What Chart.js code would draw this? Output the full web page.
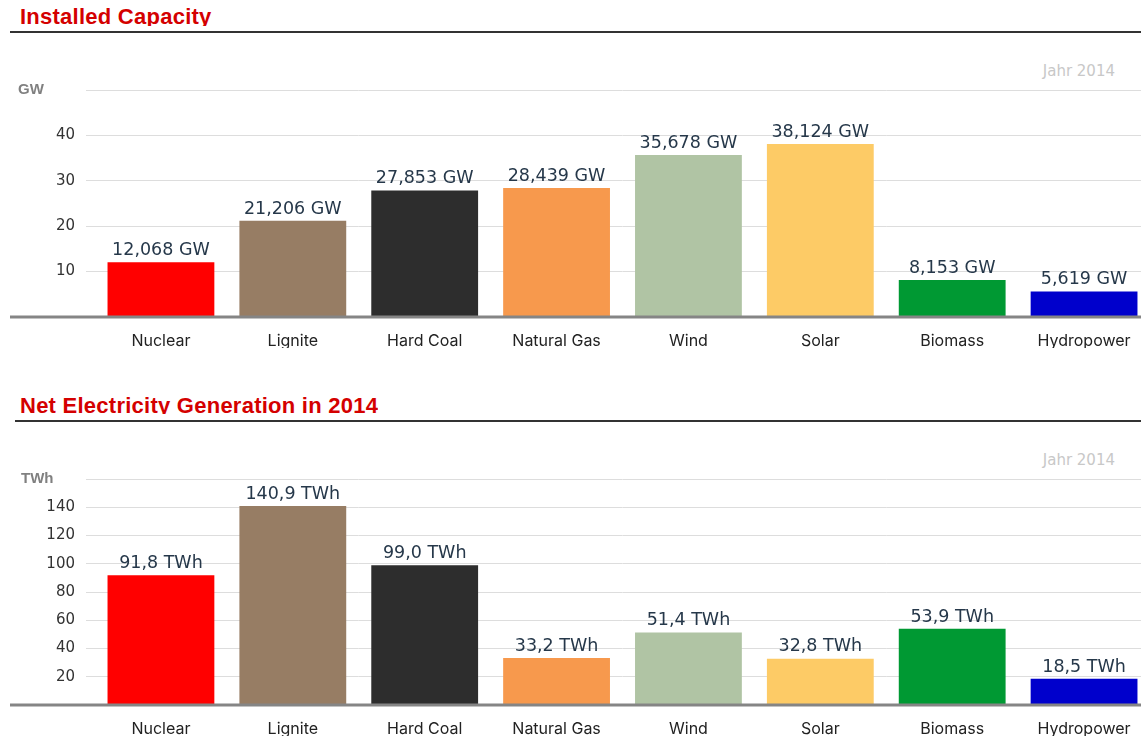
<!DOCTYPE html>
<html>
<head>
<meta charset="utf-8">
<script src="https://cdn.jsdelivr.net/npm/chart.js@4.4.1/dist/chart.umd.min.js"></script>
<style>
  html, body { margin: 0; padding: 0; background: #fff; overflow: hidden; }
  body { width: 1141px; height: 736px; position: relative; }
  .title {
    position: absolute; left: 20px; overflow: hidden; letter-spacing: 0.25px;
    font: bold 22px "Liberation Sans", Arial, sans-serif; color: #d40000;
  }
  .rule { position: absolute; height: 2px; background: #333; right: 0; }
  .year {
    position: absolute; right: 26px;
    font: 15px "DejaVu Sans", Verdana, sans-serif; color: #c8c8c8;
  }
  .box { position: absolute; left: 0; width: 1150px; overflow: hidden; }
</style>
</head>
<body>
  <div class="title" style="top:3px;height:23px;line-height:28px;">Installed Capacity</div>
  <div class="rule" style="top:31px;left:10px;"></div>
  <div class="year" style="top:62px;">Jahr 2014</div>
  <div class="box" style="top:36px;height:312px;"><canvas id="capChart"></canvas></div>

  <div class="title" style="top:392px;height:22px;line-height:28px;">Net Electricity Generation in 2014</div>
  <div class="rule" style="top:420px;left:15px;"></div>
  <div class="year" style="top:451px;">Jahr 2014</div>
  <div class="box" style="top:425px;height:311px;"><canvas id="genChart"></canvas></div>

<script>
  const categories = ['Nuclear', 'Lignite', 'Hard Coal', 'Natural Gas', 'Wind', 'Solar', 'Biomass', 'Hydropower'];
  const barColors = ['#ff0000', '#977d64', '#2d2d2d', '#f7994d', '#b0c4a4', '#fdcb66', '#009933', '#0000cc'];
  const capacityGW = [12.068, 21.206, 27.853, 28.439, 35.678, 38.124, 8.153, 5.619];
  const generationTWh = [91.8, 140.9, 99.0, 33.2, 51.4, 32.8, 53.9, 18.5];
  const capTicks = [0, 10, 20, 30, 40, 50];
  const genTicks = [0, 20, 40, 60, 80, 100, 120, 140, 160];

  // draws value labels, the unit label and the thick baseline
  const decorPlugin = {
    id: 'decor',
    afterDatasetsDraw(chart, args, opts) {
      const ctx = chart.ctx;
      const y = chart.scales.y;
      const meta = chart.getDatasetMeta(0);
      ctx.save();
      // baseline
      ctx.strokeStyle = '#858585';
      ctx.lineWidth = 3;
      ctx.beginPath();
      ctx.moveTo(10, y.getPixelForValue(0));
      ctx.lineTo(chart.width, y.getPixelForValue(0));
      ctx.stroke();
      // values
      ctx.fillStyle = '#26384a';
      ctx.font = '17.5px "DejaVu Sans", Verdana, sans-serif';
      ctx.textAlign = 'center';
      ctx.textBaseline = 'bottom';
      meta.data.forEach((bar, i) => {
        const v = chart.data.datasets[0].data[i];
        const txt = v.toFixed(opts.decimals).replace('.', ',') + ' ' + opts.unit;
        ctx.fillText(txt, bar.x, bar.y - 3);
      });
      // unit on top gridline
      ctx.fillStyle = '#808080';
      ctx.font = 'bold 15px "Liberation Sans", Arial, sans-serif';
      ctx.textAlign = 'left';
      ctx.textBaseline = 'middle';
      ctx.fillText(opts.unit, opts.unitX, y.getPixelForValue(y.max));
      ctx.restore();
    }
  };

  function makeChart(id, values, ticks, unit, decimals, unitX) {
    return new Chart(document.getElementById(id), {
      type: 'bar',
      data: {
        labels: categories,
        datasets: [{
          data: values,
          backgroundColor: barColors,
          borderWidth: 0,
          barPercentage: 0.81,
          categoryPercentage: 1
        }]
      },
      options: {
        responsive: true,
        maintainAspectRatio: false,
        animation: false,
        layout: { padding: { top: 54, right: 0, left: 0, bottom: 0 } },
        plugins: {
          legend: { display: false },
          tooltip: { enabled: false },
          decor: { unit: unit, decimals: decimals, unitX: unitX }
        },
        scales: {
          x: {
            grid: { display: false, drawTicks: false },
            border: { display: false },
            ticks: {
              padding: 15,
              color: '#222',
              font: { family: 'Inter', size: 16 }
            },
            afterFit: (s) => { s.height = 31; }
          },
          y: {
            min: ticks[0],
            max: ticks[ticks.length - 1],
            afterBuildTicks: (s) => { s.ticks = ticks.map(v => ({ value: v })); },
            grid: { color: '#dddddd', lineWidth: 1, drawTicks: true, tickLength: 9 },
            border: { display: false },
            ticks: {
              padding: 11,
              color: '#333',
              font: { family: 'DejaVu Sans', size: 15 },
              callback: (v) => (v === ticks[0] || v === ticks[ticks.length - 1]) ? '' : v
            },
            afterFit: (s) => { s.width = 95; }
          }
        }
      },
      plugins: [decorPlugin]
    });
  }

  makeChart('capChart', capacityGW, capTicks, 'GW', 3, 18);
  makeChart('genChart', generationTWh, genTicks, 'TWh', 1, 21);
</script>
</body>
</html>
